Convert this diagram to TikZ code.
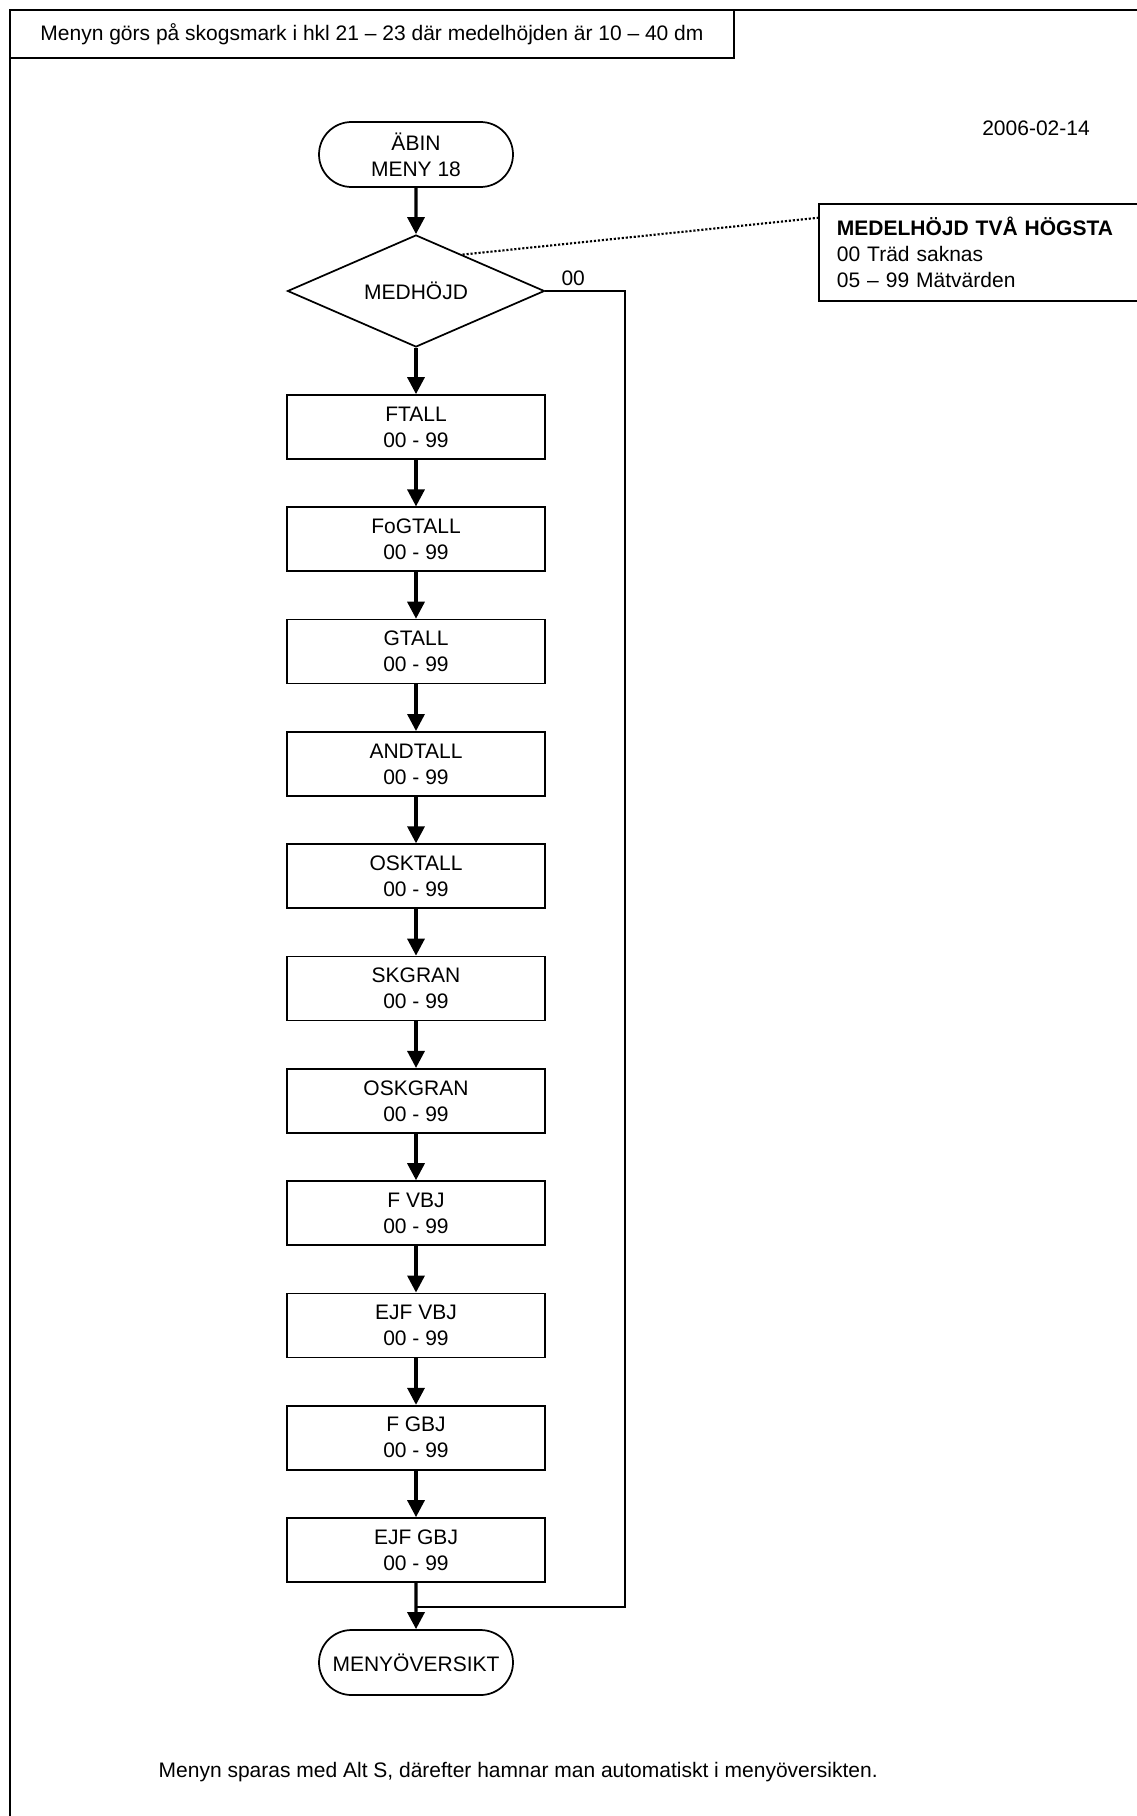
\documentclass[tikz,border=0pt]{standalone}
\usepackage{fontspec}
\setmainfont{Liberation Sans}
\usetikzlibrary{shapes.geometric,shapes.misc,arrows.meta,calc}

\tikzset{
  every node/.style={font=\fontsize{15.75}{19.5}\selectfont},
  term/.style={draw, line width=1.3pt, rounded rectangle, minimum width=145.5pt,
    minimum height=48.75pt, align=center, inner sep=0pt},
  dec/.style={draw, line width=1.3pt, diamond, shape aspect=2.3, minimum width=192.75pt,
    minimum height=84pt, inner sep=0pt},
  field/.style={draw, line width=1.3pt, rectangle, minimum width=193.5pt,
    minimum height=48pt, align=center, inner sep=0pt},
  arr/.style={line width=2.5pt, -{Triangle[length=12.75pt,width=12.75pt]}}
}

\begin{document}
\begin{tikzpicture}[x=0.75pt,y=-0.75pt]
  \useasboundingbox (0,0) rectangle (1136,1816);
  % ram och rubrik
  \draw[line width=1.5pt] (10,1830) -- (10,10) -- (1150,10);
  \node (hdr) [draw, line width=1.7pt, minimum width=543pt, minimum height=36pt,
    inner sep=0pt] at (372,34)
    {Menyn görs på skogsmark i hkl 21 -- 23 där medelhöjden är 10 -- 40 dm};
  \node (date) at (1036,128) {2006-02-14};

  \node (start) [term] at (416,154.5) {ÄBIN\\MENY 18};
  \node (medh) [dec] at (416,291) {MEDHÖJD};
  \node (note) [draw, line width=1.3pt, anchor=north west, minimum width=249pt,
    minimum height=72.75pt, text width=222pt, align=left, inner xsep=13.5pt,
    inner ysep=0pt] at (818,203)
    {\textbf{MEDELHÖJD TVÅ HÖGSTA}\\00 Träd saknas\\05 -- 99 Mätvärden};

  \node (ftall) [field] at (416,427) {FTALL\\00 - 99};
  \node (fogtall) [field] at (416,539.3) {FoGTALL\\00 - 99};
  \node (gtall) [field] at (416,651.6) {GTALL\\00 - 99};
  \node (andtall) [field] at (416,763.9) {ANDTALL\\00 - 99};
  \node (osktall) [field] at (416,876.2) {OSKTALL\\00 - 99};
  \node (skgran) [field] at (416,988.5) {SKGRAN\\00 - 99};
  \node (oskgran) [field] at (416,1100.8) {OSKGRAN\\00 - 99};
  \node (fvbj) [field] at (416,1213.1) {F VBJ\\00 - 99};
  \node (ejfvbj) [field] at (416,1325.4) {EJF VBJ\\00 - 99};
  \node (fgbj) [field] at (416,1437.7) {F GBJ\\00 - 99};
  \node (ejfgbj) [field] at (416,1550) {EJF GBJ\\00 - 99};
  \node (slut) [term] at (416,1662.5) {MENYÖVERSIKT};

  \node (foot) [anchor=west] at (154,1772)
    {Menyn sparas med Alt S, därefter hamnar man automatiskt i menyöversikten.};

  % pilar
  \draw[arr] (start) -- (medh);
  \draw[arr] (medh) -- (ftall);
  \draw[arr] (ftall) -- (fogtall);
  \draw[arr] (fogtall) -- (gtall);
  \draw[arr] (gtall) -- (andtall);
  \draw[arr] (andtall) -- (osktall);
  \draw[arr] (osktall) -- (skgran);
  \draw[arr] (skgran) -- (oskgran);
  \draw[arr] (oskgran) -- (fvbj);
  \draw[arr] (fvbj) -- (ejfvbj);
  \draw[arr] (ejfvbj) -- (fgbj);
  \draw[arr] (fgbj) -- (ejfgbj);
  \draw[arr] (ejfgbj) -- (slut);

  % gren 00
  \coordinate (hoger) at (625,291);
  \coordinate (mot) at (416,1607);
  \draw[line width=2pt] (medh.east) -- node[above, pos=0.35] {00} (hoger) |- (mot);
  \draw[line width=1.6pt, dash pattern=on 1.6pt off 1.4pt]
    ($(medh.north)!0.36!(medh.east)$) -- ($(note.north west)!0.15!(note.south west)$);
\end{tikzpicture}
\end{document}
